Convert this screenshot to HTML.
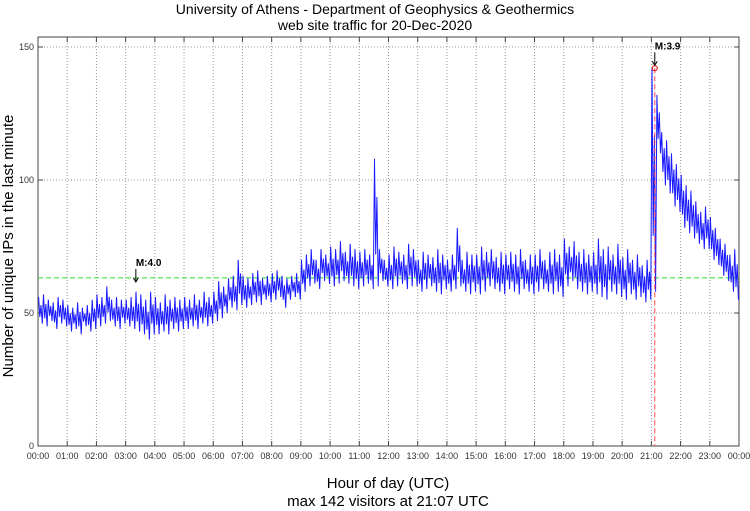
<!DOCTYPE html>
<html><head><meta charset="utf-8"><style>
body{margin:0;background:#fff;width:750px;height:511px;overflow:hidden}
svg{display:block;font-family:"Liberation Sans",sans-serif}
</style></head><body>
<svg id="chart" width="750" height="511" viewBox="0 0 750 511"></svg>
<script>
const hourLabels=["00:00","01:00","02:00","03:00","04:00","05:00","06:00","07:00","08:00","09:00","10:00","11:00","12:00","13:00","14:00","15:00","16:00","17:00","18:00","19:00","20:00","21:00","22:00","23:00","00:00"];
const yTicks=[0,50,100,150];
const binLow=[46,45,47,44,46,45, 43,44,42,45,43,44, 45,46,47,45,44,46, 45,44,43,42,40,42, 42,43,42,44,43,44, 44,45,44,46,45,46,
47,48,50,52,51,53, 52,53,54,53,55,54, 55,56,52,55,56,55, 58,60,61,59,62,61, 60,61,62,61,60,59, 60,61,59,60,62,60,
59,60,61,59,60,60, 58,59,60,58,57,59, 58,59,60,58,57,58, 57,58,60,59,58,57, 59,58,57,59,58,57, 58,59,58,57,58,56,
60,62,59,58,57,58, 57,56,55,58,57,56, 55,57,55,56,54,55, 58,110,98,95,90,88, 82,80,78,76,74,74, 70,68,64,62,58,55];
const binHigh=[56,57,55,54,56,55, 53,52,54,52,53,55, 57,56,60,55,56,55, 55,56,58,57,55,58, 56,54,57,55,56,55, 56,55,57,55,58,56,
58,62,60,63,64,70, 64,63,65,66,63,64, 65,66,64,63,64,65, 70,72,74,70,74,72, 75,74,77,73,76,74, 73,74,72,108,74,70,
72,75,73,72,76,74, 70,73,72,71,74,72, 70,72,82,70,73,72, 72,75,73,74,71,73, 72,73,72,74,70,72, 72,74,70,73,74,72,
78,75,77,73,74,72, 73,78,74,75,72,76, 71,74,70,72,68,70, 142,132,118,115,110,106, 102,98,96,92,88,90, 86,82,78,76,72,74];
const meanLevel=63.2;
const maxValue=142, maxHour=21+7/60;
const quakeHours=[3+21/60,21+7/60];
const quakeLabels=["M:4.0","M:3.9"];

const NS="http://www.w3.org/2000/svg";
const svg=document.getElementById('chart');
const X0=38,X1=739,Y0=446,Y150=47;
const xs=h=>X0+(X1-X0)*h/24;
const ys=v=>Y0-(Y0-Y150)*v/150;
function mk(tag,attrs,parent){const e=document.createElementNS(NS,tag);for(const k in attrs)e.setAttribute(k,attrs[k]);(parent||svg).appendChild(e);return e;}
function txt(s,attrs){const t=mk('text',attrs);t.textContent=s;return t;}

const frame=mk('rect',{x:X0,y:Y150-10,width:X1-X0,height:Y0-Y150+10,fill:'none',stroke:'#444','stroke-width':1});


hourLabels.forEach((l,i)=>{
  const x=xs(i);
  if(i>0&&i<24){const g=mk('line',{x1:x,x2:x,y1:Y150-10,y2:Y0,stroke:'#999','stroke-width':1,'stroke-dasharray':'1,2'});
  
  mk('line',{x1:x,x2:x,y1:Y0,y2:Y0-5,stroke:'#444'});mk('line',{x1:x,x2:x,y1:Y150-10,y2:Y150-5,stroke:'#444'});}
  const t=txt(l,{x:x,y:Y0+13,'font-size':9,'text-anchor':'middle',fill:'#333'});
  
  
});
yTicks.forEach(v=>{
  const y=ys(v);
  if(v>0){const g=mk('line',{x1:X0,x2:X1,y1:y,y2:y,stroke:'#999','stroke-width':1,'stroke-dasharray':'1,2'});
  
  mk('line',{x1:X1-5,x2:X1,y1:y,y2:y,stroke:'#444'});mk('line',{x1:X0,x2:X0+5,y1:y,y2:y,stroke:'#444'});}
  const t=txt(String(v),{x:X0-4,y:y+3,'font-size':9,'text-anchor':'end',fill:'#333'});
  
  
});
const ml=mk('line',{x1:X0,x2:X1,y1:ys(meanLevel),y2:ys(meanLevel),stroke:'#2d2','stroke-width':1,'stroke-dasharray':'5,3'});


let pts=[];
for(let i=0;i<binLow.length;i++){
  const h=i/6, lo=binLow[i], hi=binHigh[i], span=hi-lo;
  pts.push(xs(h+1.25/60).toFixed(1)+','+ys(hi).toFixed(1));
  pts.push(xs(h+3.75/60).toFixed(1)+','+ys(lo+span*0.25).toFixed(1));
  pts.push(xs(h+6.25/60).toFixed(1)+','+ys(hi-span*0.3).toFixed(1));
  pts.push(xs(h+8.75/60).toFixed(1)+','+ys(lo).toFixed(1));
}
const line=mk('polyline',{points:pts.join(' '),fill:'none',stroke:'#1a1aff','stroke-width':1,'stroke-linejoin':'miter'});


const ql=mk('line',{x1:xs(maxHour),x2:xs(maxHour),y1:ys(maxValue),y2:Y0,stroke:'#f44','stroke-width':1,'stroke-dasharray':'5,3'});


const mc=mk('circle',{cx:xs(maxHour),cy:ys(maxValue),r:2.5,fill:'none',stroke:'#e00','stroke-width':1});


quakeHours.forEach((h,i)=>{
  const x=xs(h);
  const yb=i===0?ys(meanLevel)+4:ys(maxValue)-3;
  const g=mk('g',{});
  
  
  mk('line',{x1:x,x2:x,y1:yb-13,y2:yb,stroke:'#000'},g);
  mk('path',{d:`M${x-2.5},${yb-4} L${x},${yb} L${x+2.5},${yb-4}`,fill:'none',stroke:'#000'},g);
  const t=mk('text',{x:x,y:yb-16,'font-size':10,'font-weight':'bold',fill:'#000'},g);
  t.textContent=quakeLabels[i];
});
[["University of Athens - Department of Geophysics & Geothermics",14,'chart-title'],["web site traffic for 20-Dec-2020",30,'chart-subtitle']].forEach(a=>{
  const t=txt(a[0],{x:375,y:a[1],'font-size':14,'text-anchor':'middle',fill:'#000'});
  
  
});
const xl=txt("Hour of day (UTC)",{x:388,y:488,'font-size':15,'text-anchor':'middle',fill:'#000'});


const xl2=txt("max 142 visitors at 21:07 UTC",{x:388,y:506,'font-size':15,'text-anchor':'middle',fill:'#000'});


const yl=txt("Number of unique IPs in the last minute",{x:0,y:0,'font-size':15,'text-anchor':'middle',fill:'#000',transform:'translate(13,246) rotate(-90)'});


</script>
</body></html>
